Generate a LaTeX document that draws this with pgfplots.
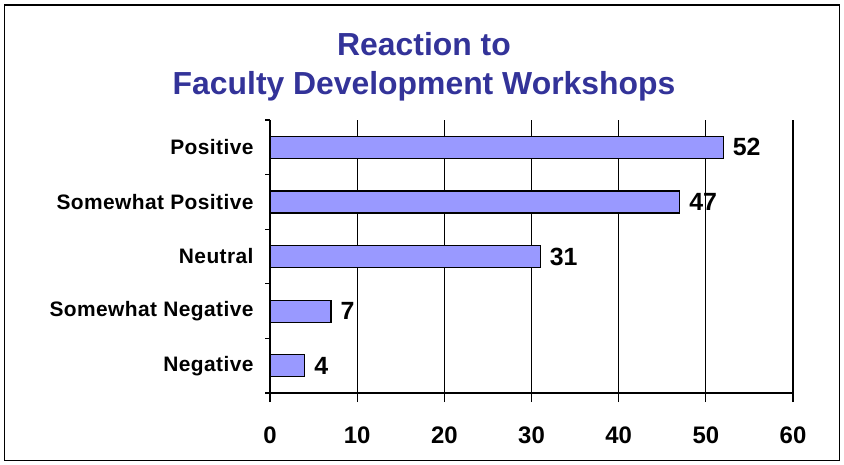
\documentclass[border=0pt]{standalone}
\usepackage{fontspec}
\setmainfont{Liberation Sans}
\newfontfamily\catfont[LetterSpace=2]{Liberation Sans}
\usepackage{pgfplots}
\pgfplotsset{compat=1.18}
\definecolor{titleblue}{HTML}{333399}
\definecolor{barfill}{HTML}{9999FF}
\begin{document}
\begin{tikzpicture}[x=1bp,y=1bp]
\path[use as bounding box] (0,0) rectangle (844,-465);
\draw[line width=1.2bp] (4.5,-5) rectangle (839.5,-460.5);
\node[anchor=base, inner sep=0pt, font=\fontsize{32}{36}\bfseries\selectfont, text=titleblue] at (424,-56) {Reaction to};
\node[anchor=base, inner sep=0pt, font=\fontsize{32}{36}\bfseries\selectfont, text=titleblue] at (424,-95) {Faculty Development Workshops};
\begin{axis}[
  at={(270bp,-393bp)}, anchor=south west,
  scale only axis, width=523bp, height=273bp,
  xmin=0, xmax=60, ymin=0.5, ymax=5.5,
  xbar, bar width=22bp,
  axis x line*=bottom, axis y line*=left,
  axis line style={line width=1.2bp, black},
  xtick={0,10,...,60},
  ytick={1,2,3,4,5},
  yticklabels={Negative,Somewhat Negative,Neutral,Somewhat Positive,Positive},
  minor ytick={0.5,1.5,...,5.5},
  tick align=outside,
  xtick style={line width=1.2bp, black, /pgfplots/major tick length=9bp},
  ytick style={line width=1.2bp, black, /pgfplots/major tick length=0bp, /pgfplots/minor tick length=5bp},
  minor tick style={line width=1.2bp, black},
  xmajorgrids, ymajorgrids=false,
  major grid style={line width=1.2bp, black},
  yticklabel style={anchor=east, inner sep=0pt, xshift=-12bp, font=\catfont\fontsize{21}{24}\bfseries\selectfont},
  xticklabel style={anchor=north, inner sep=0pt, yshift=-29.3bp, font=\fontsize{24}{26}\bfseries\selectfont, /pgf/number format/assume math mode=true},
  nodes near coords,
  nodes near coords style={anchor=west, inner sep=0pt, xshift=9bp, font=\fontsize{25}{28}\bfseries\selectfont, /pgf/number format/assume math mode=true, black},
]
\addplot[fill=barfill, draw=black, line width=1.2bp] coordinates {(4,1) (7,2) (31,3) (47,4) (52,5)};
\end{axis}
\end{tikzpicture}
\end{document}
